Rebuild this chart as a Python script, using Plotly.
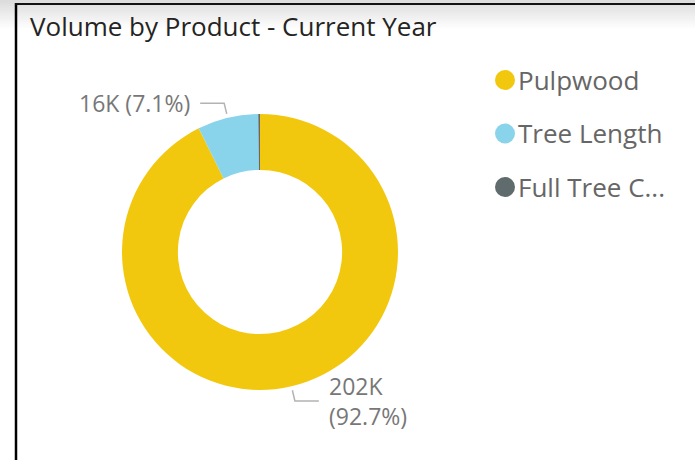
import math
import plotly.graph_objects as go

# ---- data ----
products = ["Pulpwood", "Tree Length", "Full Tree Chipping"]
legend_labels = ["Pulpwood", "Tree Length", "Full Tree C..."]
volumes = [202000, 15520, 440]
colors = ["#F2C80F", "#8AD4EB", "#5F6B6D"]
show_label = [True, True, False]

W, H = 695, 460
CX, CY, R = 260, 252, 138
HOLE = 0.595
FONT = "Segoe UI, Open Sans, sans-serif"


def px(x):
    return x / W


def py(y):
    return 1 - y / H


fig = go.Figure()
fig.add_trace(go.Pie(
    labels=products, values=volumes, sort=False, direction="clockwise",
    rotation=0, hole=HOLE, textinfo="none", hoverinfo="label+value+percent",
    marker=dict(colors=colors, line=dict(width=0)), showlegend=False,
    domain=dict(x=[px(CX - R), px(CX + R)], y=[py(CY + R), py(CY - R)]),
))

shapes = []
annotations = []

# background gradient at the top
N = 15
for i in range(N):
    t = i / (N - 1)
    g = int(round(0xdc + (0xff - 0xdc) * t))
    shapes.append(dict(type="rect", xref="paper", yref="paper", x0=0, x1=1,
                       y0=py(2 * (i + 1)), y1=py(2 * i),
                       fillcolor=f"rgb({g},{g},{g})", line=dict(width=0), layer="below"))
# frame lines
shapes.append(dict(type="line", xref="paper", yref="paper", x0=px(16), x1=px(16),
                   y0=0, y1=py(3), line=dict(color="#000", width=2.5)))
shapes.append(dict(type="line", xref="paper", yref="paper", x0=px(15), x1=1,
                   y0=py(4), y1=py(4), line=dict(color="#111", width=2)))

# title
annotations.append(dict(text="Volume by Product - Current Year", xref="paper", yref="paper",
                        x=px(28), y=py(26), xanchor="left", yanchor="middle", showarrow=False,
                        font=dict(family=FONT, size=26, color="#252423")))

# data labels with leader lines
total = sum(volumes)
cum = 0
for v, show in zip(volumes, show_label):
    mid = (cum + v / 2) / total * 2 * math.pi
    cum += v
    if not show:
        continue
    sx, sy = math.sin(mid), -math.cos(mid)
    ax, ay = CX + (R + 4) * sx, CY + (R + 4) * sy
    ex, ey = CX + (R + 15) * sx, CY + (R + 15) * sy
    side = 1 if sx > 0 else -1
    hx = ex + side * 24
    shapes.append(dict(type="path", xref="paper", yref="paper",
                       path=f"M {px(ax)} {py(ay)} L {px(ex)} {py(ey)} L {px(hx)} {py(ey)}",
                       line=dict(color="#b3b3b3", width=1.5)))
    pct = v / total * 100
    txt = f"{v/1000:.0f}K ({pct:.1f}%)"
    if side > 0:
        txt = txt.replace(" ", "<br>")
    annotations.append(dict(text=txt, xref="paper", yref="paper", x=px(hx + side * 8),
                            y=py(ey), xanchor="left" if side > 0 else "right",
                            yanchor="middle", align="left", showarrow=False,
                            font=dict(family=FONT, size=23, color="#777777")))

# legend
for i, (lab, col) in enumerate(zip(legend_labels, colors)):
    yc = 80 + 53.5 * i
    shapes.append(dict(type="circle", xref="paper", yref="paper",
                       x0=px(495), x1=px(515), y0=py(yc + 10), y1=py(yc - 10),
                       fillcolor=col, line=dict(width=0)))
    annotations.append(dict(text=lab, xref="paper", yref="paper", x=px(516), y=py(yc),
                            xanchor="left", yanchor="middle", showarrow=False,
                            font=dict(family=FONT, size=26, color="#666666")))

fig.update_layout(width=W, height=H, margin=dict(l=0, r=0, t=0, b=0),
                  paper_bgcolor="white", plot_bgcolor="white",
                  shapes=shapes, annotations=annotations)
fig.write_html("out.html", config={"displayModeBar": False},
               post_script="document.body.style.margin='0px';")
